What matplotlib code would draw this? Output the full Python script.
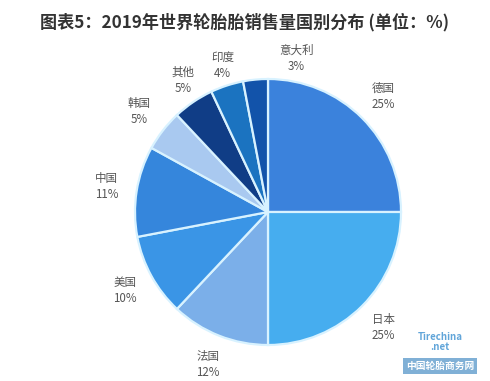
import numpy as np
import matplotlib.pyplot as plt

plt.rcParams['font.family'] = ['Noto Sans CJK SC', 'DejaVu Sans']

countries = ['德国', '日本', '法国', '美国', '中国', '韩国', '其他', '印度', '意大利']
shares = [25, 25, 12, 10, 11, 5, 5, 4, 3]
colors = ['#3b82dc', '#46adef', '#7bafe9', '#3a95e6', '#3586dc',
          '#a9c9f0', '#103d86', '#1b73c0', '#1253aa']

fig = plt.figure(figsize=(4.9, 3.81), dpi=100)
ax = fig.add_axes([0, 0, 1, 1])

wedges, texts = ax.pie(shares, colors=colors, startangle=90, counterclock=False,
                       radius=1.0, labels=[f'{c}\n{v}%' for c, v in zip(countries, shares)],
                       labeldistance=1.23,
                       wedgeprops=dict(edgecolor='#d8f2ff', linewidth=1.6),
                       textprops=dict(fontsize=8.3, color='#555555', ha='center',
                                      va='center', linespacing=1.3))
for t in texts:
    t.set_ha('center')
    t.set_va('center')

# small nudges where the original labels sit off the radial line
nudges = {8: (0.33, -0.07), 7: (0.04, -0.07), 6: (0.05, -0.03)}
for i, (dx, dy) in nudges.items():
    x, y = texts[i].get_position()
    texts[i].set_position((x + dx, y + dy))

# keep 133 px per unit, pie centre at (268, 212) px
s = 133.0
ax.set_xlim(-268 / s, (490 - 268) / s)
ax.set_ylim((212 - 381) / s, 212 / s)
ax.set_aspect('auto')
ax.axis('off')

fig.text(0.5, 1 - 22 / 381, '图表5：2019年世界轮胎胎销售量国别分布 (单位：%)',
         ha='center', va='center', fontsize=12.3, fontweight='bold', color='#333333')

# site watermark, bottom right
fig.text(440 / 490, 1 - 342 / 381, 'Tirechina\n.net', ha='center', va='center',
         fontsize=7, color='#3a8fd0', style='italic', fontweight='bold', alpha=0.8,
         linespacing=0.9)
fig.text(440 / 490, 1 - 366 / 381, '中国轮胎商务网', ha='center', va='center',
         fontsize=7, color='white', fontweight='bold',
         bbox=dict(boxstyle='square,pad=0.3', fc='#6aa3cf', ec='none', alpha=0.85))

fig.savefig('out.png', dpi=100, facecolor='white')
